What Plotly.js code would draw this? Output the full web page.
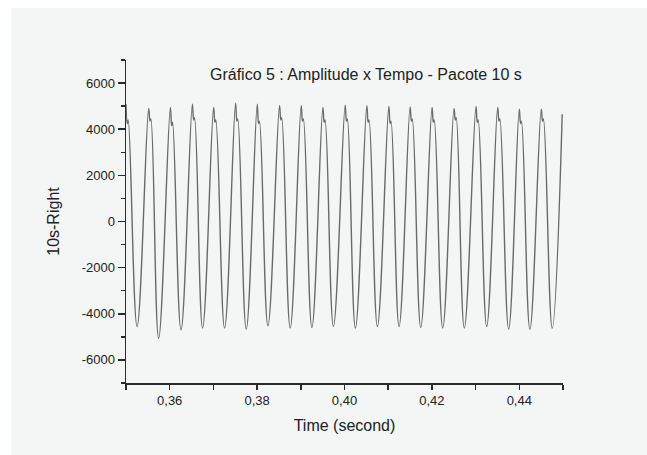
<!DOCTYPE html>
<html>
<head>
<meta charset="utf-8">
<script src="https://cdn.plot.ly/plotly-3.0.1.min.js"></script>
<style>
html,body{margin:0;padding:0;background:#ffffff;}
#chart{position:absolute;left:11px;top:8px;width:636px;height:447px;}
</style>
</head>
<body>
<div id="chart"></div>
<script>
// Peaks and troughs (time in s, amplitude)
const peakTimes = [0.3500, 0.35519, 0.36015, 0.36518, 0.37005, 0.37507, 0.38003, 0.38513, 0.39009, 0.39505,
                   0.40015, 0.40511, 0.41014, 0.41501, 0.42003, 0.42506, 0.43009, 0.43505, 0.43999, 0.44502];
const peakValues = [5087, 4900, 4943, 5087, 4943, 5130, 5087, 5014, 5014, 4943,
                    5043, 5014, 4986, 4970, 4943, 4900, 4986, 4943, 4870, 4870];
// small notch just after each peak (dip, then a slight rebound)
const dipTimes = [0.35030, 0.35549, 0.36045, 0.36548, 0.37035, 0.37537, 0.38033, 0.38543, 0.39039, 0.39535,
                  0.40045, 0.40541, 0.41044, 0.41531, 0.42033, 0.42536, 0.43039, 0.43535, 0.44029, 0.44532];
const dipValues = [4250, 4350, 4150, 4400, 4300, 4350, 4250, 4400, 4350, 4300,
                   4350, 4300, 4250, 4350, 4300, 4400, 4300, 4350, 4250, 4350];
const bumpTimes = [0.35050, 0.35569, 0.36065, 0.36568, 0.37055, 0.37557, 0.38053, 0.38563, 0.39059, 0.39555,
                   0.40065, 0.40561, 0.41064, 0.41551, 0.42053, 0.42556, 0.43059, 0.43555, 0.44049, 0.44552];
const bumpValues = [4400, 4450, 4300, 4500, 4400, 4450, 4350, 4500, 4450, 4400,
                    4450, 4400, 4350, 4450, 4400, 4500, 4400, 4450, 4350, 4450];
const troughTimes = [0.35254, 0.35747, 0.36259, 0.36753, 0.37256, 0.37752, 0.38248, 0.38758, 0.39254, 0.39747,
                     0.40250, 0.40753, 0.41249, 0.41745, 0.42248, 0.42742, 0.43254, 0.43757, 0.44243, 0.44753];
const troughValues = [-4551, -5058, -4696, -4623, -4623, -4667, -4522, -4623, -4594, -4551,
                      -4623, -4551, -4551, -4594, -4623, -4623, -4551, -4667, -4667, -4623];
const endTime = [0.44982];
const endValue = [4650];

const xTickVals = [0.36, 0.38, 0.40, 0.42, 0.44];
const xTickText = ['0,36', '0,38', '0,40', '0,42', '0,44'];
const yTickVals = [-6000, -4000, -2000, 0, 2000, 4000, 6000];
const yTickText = ['-6000', '-4000', '-2000', '0', '2000', '4000', '6000'];

// merge the read points in time order
const t = [], a = [];
for (let i = 0; i < peakTimes.length; i++) {
  t.push(peakTimes[i]); a.push(peakValues[i]);
  t.push(dipTimes[i]); a.push(dipValues[i]);
  t.push(bumpTimes[i]); a.push(bumpValues[i]);
  t.push(troughTimes[i]); a.push(troughValues[i]);
}
t.push(endTime[0]); a.push(endValue[0]);

const font = 'Arial, "Liberation Sans", sans-serif';
const bg = '#f4f5f5';
const axisColor = '#2a2a2a';

const trace = {
  x: t, y: a, type: 'scatter', mode: 'lines',
  line: {color: '#6a6a6a', width: 1.4, shape: 'spline', smoothing: 1.2},
  hoverinfo: 'x+y'
};

const layout = {
  width: 636, height: 447,
  paper_bgcolor: bg, plot_bgcolor: bg,
  margin: {l: 115, r: 84, t: 52, b: 72},
  showlegend: false,
  font: {family: font, color: '#222'},
  title: {
    text: 'Gráfico 5 : Amplitude x Tempo - Pacote 10 s',
    font: {family: font, size: 16, color: '#222'},
    xref: 'paper', yref: 'paper', x: 0.549, y: 0.954,
    xanchor: 'center', yanchor: 'middle'
  },
  xaxis: {
    range: [0.35, 0.45], showgrid: false, zeroline: false,
    showline: true, linecolor: axisColor, linewidth: 1.5,
    ticks: 'outside', ticklen: 5, tickwidth: 1.5, tickcolor: axisColor,
    tickmode: 'array', tickvals: xTickVals, ticktext: xTickText,
    tickfont: {family: font, size: 13, color: '#222'},
    minor: {tickmode: 'linear', tick0: 0.35, dtick: 0.01, ticks: 'outside', ticklen: 5, tickwidth: 1.5, tickcolor: axisColor, showgrid: false},
    title: {text: 'Time (second)', font: {family: font, size: 16, color: '#222'}, standoff: 12}
  },
  yaxis: {
    range: [-7000, 7000], showgrid: false, zeroline: false,
    showline: true, linecolor: axisColor, linewidth: 1.5,
    ticks: 'outside', ticklen: 7, tickwidth: 1.5, tickcolor: axisColor,
    tickmode: 'array', tickvals: yTickVals, ticktext: yTickText,
    tickfont: {family: font, size: 13, color: '#222'},
    minor: {tickmode: 'linear', tick0: -7000, dtick: 1000, ticks: 'outside', ticklen: 4, tickwidth: 1.5, tickcolor: axisColor, showgrid: false},
    title: {text: '10s-Right', font: {family: font, size: 16, color: '#222'}, standoff: 18}
  }
};

Plotly.newPlot('chart', [trace], layout, {displayModeBar: false, staticPlot: true});
</script>
</body>
</html>
